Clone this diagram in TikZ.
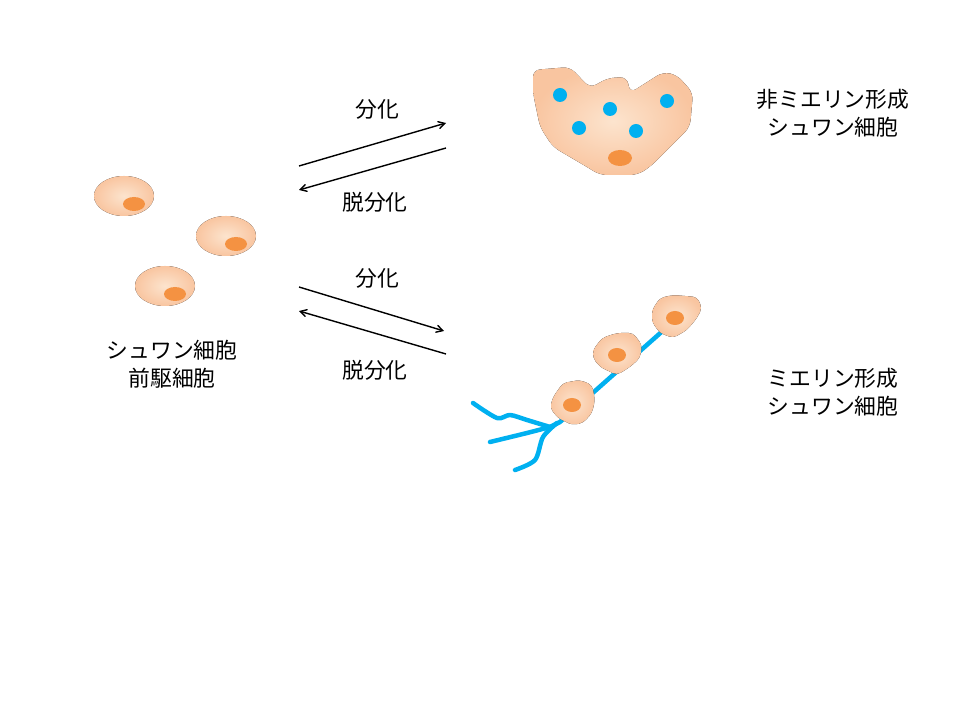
\documentclass[tikz,border=0pt]{standalone}
\usepackage{fontspec}
\setmainfont{Noto Sans CJK JP}
\usetikzlibrary{arrows}
\definecolor{cellpeach}{RGB}{249,197,160}
\definecolor{celllight}{RGB}{252,228,206}
\definecolor{nucorange}{RGB}{244,146,66}
\definecolor{axonblue}{RGB}{0,176,240}

\begin{document}
\begin{tikzpicture}
	[x=0.025cm,y=-0.025cm,every node/.style={font=\fontsize{15.5}{20}\selectfont,align=center},
	edge/.style={->,>=angle 60,line width=1pt},
	cell/.style={inner color=celllight,outer color=cellpeach},
	nucleus/.style={fill=nucorange},
	axon/.style={draw=axonblue,line width=3.2pt,line cap=round,line join=round}]
	\useasboundingbox (0,0) rectangle (960,720);

	% precursor cells
	\foreach \cx/\cy in {124/196,226/236,165/286}
	{
		\fill[cell] (\cx,\cy) ellipse [x radius=30,y radius=20];
		\fill[nucleus] (\cx+10,\cy+8) ellipse [x radius=11,y radius=7];
	}
	\node (pre) at (172,364) {シュワン細胞\\前駆細胞};

	% arrows
	\coordinate (d1s) at (299,166); \coordinate (d1e) at (446,123);
	\coordinate (r1s) at (446,148); \coordinate (r1e) at (299,190);
	\coordinate (d2s) at (299,287); \coordinate (d2e) at (444,331);
	\coordinate (r2s) at (446,354); \coordinate (r2e) at (299,311);
	\foreach \from/\to in {d1s/d1e,r1s/r1e,d2s/d2e,r2s/r2e}
	\draw[edge] (\from) -- (\to);
	\node (dif1) at (377,109) {分化};
	\node (ded1) at (375,202) {脱分化};
	\node (dif2) at (377,278) {分化};
	\node (ded2) at (375,370) {脱分化};

	% non-myelinating
	\fill[cell,rounded corners=5] (533,70) -- (570,67) -- (590,88) -- (608,78) -- (627,77) -- (630,93)
		-- (663,72) -- (677,75) -- (693,93) -- (690,127) -- (667,150) -- (650,167) -- (637,175)
		-- (600,175) -- (587,167) -- (553,147) -- (540,127) -- (533,93) -- cycle;
	\foreach \bx/\by in {560/95,610/109,667/101,579/128,636/131}
	\fill[axonblue] (\bx,\by) circle [radius=7];
	\fill[nucleus] (620,158) ellipse [x radius=12,y radius=8];
	\node (nonmy) at (833,113) {非ミエリン形成\\シュワン細胞};

	% myelinating
	\draw[axon] (675,320) -- (560,422) -- (550,427);
	\draw[axon] plot[smooth] coordinates {(550,427) (527,420) (510,415) (497,418) (473,403)};
	\draw[axon] plot[smooth] coordinates {(550,427) (527,433) (490,442)};
	\draw[axon] plot[smooth] coordinates {(557,423) (543,437) (535,460) (515,470)};
	\fill[cell,rounded corners=3] (652,310) -- (660,298) -- (673,295) -- (697,297) -- (702,308) -- (697,318)
		-- (687,330) -- (673,338) -- (660,333) -- (652,322) -- cycle;
	\fill[cell,rounded corners=3] (593,350) -- (602,338) -- (617,333) -- (633,333) -- (642,345) -- (640,358)
		-- (630,367) -- (617,375) -- (600,367) -- (593,358) -- cycle;
	\fill[cell,rounded corners=3] (553,397) -- (563,383) -- (580,380) -- (592,385) -- (595,400) -- (592,413)
		-- (583,423) -- (572,425) -- (558,418) -- (550,408) -- cycle;
	\foreach \nx/\ny in {675/318,617/355,572/405}
	\fill[nucleus] (\nx,\ny) ellipse [x radius=9,y radius=7];
	\node (my) at (833,392) {ミエリン形成\\シュワン細胞};

\end{tikzpicture}
\end{document}
